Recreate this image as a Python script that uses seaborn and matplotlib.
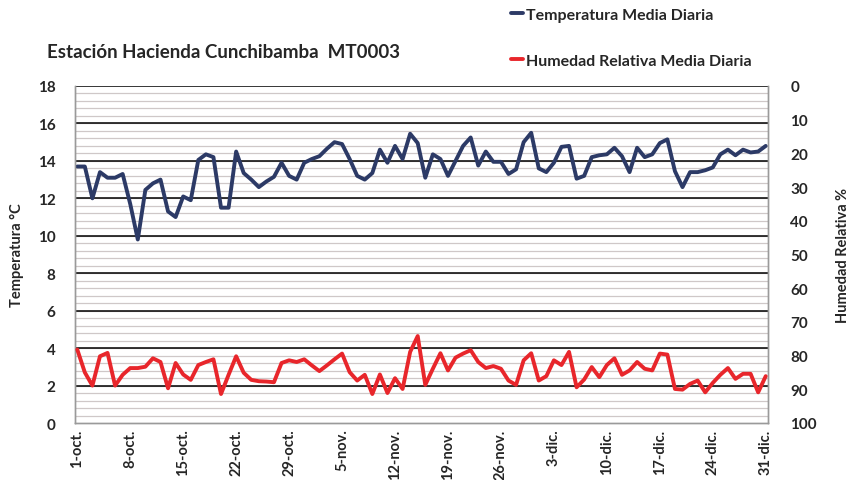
import numpy as np
import pandas as pd
import matplotlib
matplotlib.use("Agg")
import matplotlib.pyplot as plt
import seaborn as sns

# daily means, 1-oct to 31-dic
temperatura = [13.7, 13.7, 12.0, 13.4, 13.1, 13.1, 13.3, 11.7, 9.8, 12.45,
               12.8, 13.0, 11.3, 11.0, 12.1, 11.9, 14.05, 14.35, 14.2, 11.5,
               11.5, 14.5, 13.35, 13.0, 12.6, 12.9, 13.15, 13.9, 13.2, 13.0,
               13.9, 14.1, 14.25, 14.65, 15.0, 14.9, 14.1, 13.2, 13.0, 13.35,
               14.6, 13.9, 14.8, 14.1, 15.45, 14.95, 13.1, 14.35, 14.1, 13.2,
               14.0, 14.8, 15.25, 13.75, 14.5, 13.95, 13.95, 13.3, 13.55, 15.0,
               15.5, 13.6, 13.4, 13.9, 14.75, 14.8, 13.05, 13.2, 14.2, 14.3,
               14.35, 14.7, 14.25, 13.4, 14.7, 14.2, 14.35, 14.95, 15.15, 13.45,
               12.6, 13.4, 13.4, 13.5, 13.65, 14.35, 14.6, 14.3, 14.6, 14.45,
               14.5, 14.8]

humedad = [78.2, 85.0, 88.9, 80.2, 79.2, 88.9, 85.7, 83.7, 83.7, 83.3,
           80.8, 81.9, 89.7, 82.2, 85.6, 87.2, 82.8, 81.9, 81.1, 91.4,
           85.7, 80.2, 85.1, 87.2, 87.6, 87.7, 87.9, 82.2, 81.4, 81.9,
           81.1, 82.9, 84.6, 82.9, 81.1, 79.4, 84.9, 87.4, 85.7, 91.4,
           85.6, 91.1, 86.7, 89.9, 78.9, 74.2, 88.7, 83.9, 79.3, 84.4,
           80.6, 79.4, 78.4, 81.9, 83.7, 83.1, 83.9, 87.4, 88.7, 81.4,
           79.3, 87.4, 86.1, 81.4, 82.8, 78.9, 89.4, 87.1, 83.4, 86.4,
           82.8, 80.8, 85.7, 84.4, 81.9, 83.9, 84.4, 79.4, 79.7, 89.9,
           90.1, 88.4, 87.4, 90.9, 88.1, 85.7, 83.7, 86.9, 85.4, 85.4,
           90.9, 86.1]

etiquetas = ["1-oct.", "8-oct.", "15-oct.", "22-oct.", "29-oct.", "5-nov.", "12-nov.",
             "19-nov.", "26-nov.", "3-dic.", "10-dic.", "17-dic.", "24-dic.", "31-dic."]

df = pd.DataFrame({"dia": np.arange(len(temperatura)),
                   "temp": temperatura, "hum": humedad})

sns.set_style("white")
plt.rcParams["font.family"] = ["Lato", "DejaVu Sans"]
plt.rcParams["font.weight"] = "bold"

fig = plt.figure(figsize=(8.52, 4.81), dpi=100)
ax = fig.add_axes([75 / 852, 1 - 424 / 481, 693 / 852, 337 / 481])
ax2 = ax.twinx()

# grid: grey every 0.4, black every 2
for y in np.arange(0.4, 18, 0.4):
    ax.axhline(y, color="#cfc8c8", lw=0.9, zorder=0)
for y in range(2, 19, 2):
    ax.axhline(y, color="black", lw=1.1, zorder=1)

sns.lineplot(data=df, x="dia", y="temp", ax=ax, color="#2c3a66", lw=2.8,
             label="Temperatura Media Diaria", legend=False, zorder=3)
sns.lineplot(data=df, x="dia", y="hum", ax=ax2, color="#e8262b", lw=2.8,
             label="Humedad Relativa Media Diaria", legend=False, zorder=3)

ax.set_xlim(-0.3, 91.3)
ax.set_ylim(0, 18)
ax.set_yticks(range(0, 19, 2))
ax2.set_ylim(100, 0)
ax2.set_yticks(range(0, 101, 10))

ax.set_xticks(range(0, 92, 7))
ax.set_xticklabels(etiquetas, rotation=90, fontsize=10.5, fontweight="bold")
ax.tick_params(axis="x", length=0, pad=4)
ax.tick_params(axis="y", length=0, pad=14, labelsize=11)
ax2.tick_params(axis="y", length=0, pad=16, labelsize=11)
for t in ax.get_yticklabels() + ax2.get_yticklabels():
    t.set_fontweight("bold")

ax.set_xlabel("")
ax.set_ylabel("Temperatura °C", fontsize=10.5, fontweight="bold", labelpad=10)
ax2.set_ylabel("Humedad Relativa %", fontsize=10.5, fontweight="bold", labelpad=14)

for a in (ax, ax2):
    for s in a.spines.values():
        s.set_color("#9a9a9a")
        s.set_linewidth(1.0)
    a.spines["top"].set_visible(False)

fig.text(47 / 852, 1 - 52 / 481, "Estación Hacienda Cunchibamba  MT0003",
         fontsize=13.5, fontweight="bold", va="center", ha="left")

h1, l1 = ax.get_legend_handles_labels()
h2, l2 = ax2.get_legend_handles_labels()
fig.legend(h1 + h2, l1 + l2, loc="upper left", bbox_to_anchor=(497 / 852, 1.012),
           frameon=False, handlelength=0.75, handletextpad=0.15, labelspacing=2.0,
           prop={"size": 11.5, "weight": "bold"})

fig.savefig("out.png", dpi=100, facecolor="white")
